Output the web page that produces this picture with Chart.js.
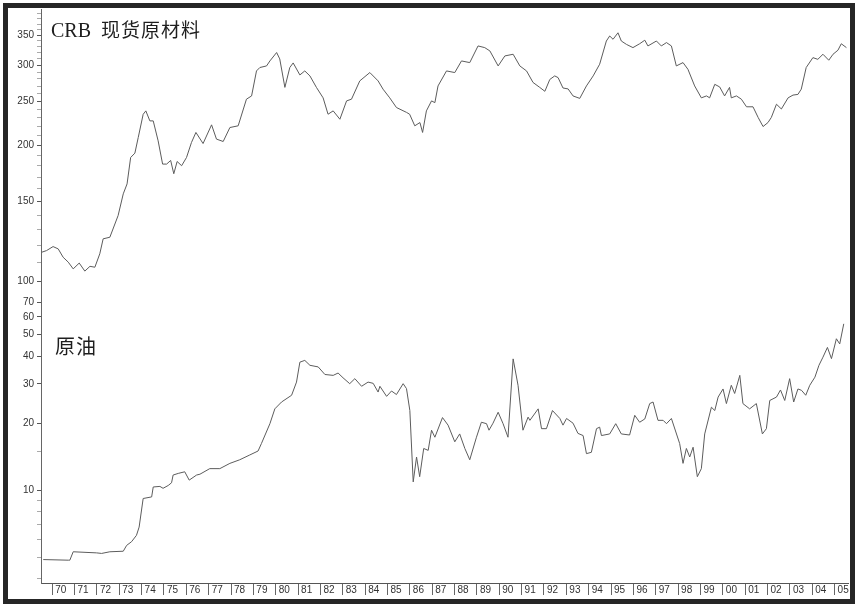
<!DOCTYPE html>
<html>
<head>
<meta charset="utf-8">
<script src="https://cdn.jsdelivr.net/npm/chart.js@4.4.1/dist/chart.umd.min.js"></script>
<style>
body { margin:0; background:#fff; }
#wrap { position:relative; width:856px; height:606px; }
#frame { position:absolute; left:3px; top:3px; width:852px; height:601px; border:5px solid #262626; box-sizing:border-box; pointer-events:none; }
.lbl { position:absolute; color:#1e1e1e; white-space:nowrap; line-height:1; }
</style>
</head>
<body>
<div id="wrap">
<canvas id="myChart" width="856" height="606"></canvas>
<div id="frame"></div>
<div class="lbl" style="left:51px; top:19px; font-size:20px;"><span style="font-family:'Liberation Serif'">CRB</span><span style="font-family:'Noto Sans CJK SC'; font-size:19px; letter-spacing:1px; margin-left:10px">现货原材料</span></div>
<div class="lbl" style="left:55px; top:336px; font-family:'Noto Sans CJK SC'; font-size:20px; letter-spacing:1px">原油</div>
</div>

<script>
// CRB spot raw materials (upper panel, log scale)
var crbYears = [1969.53,1969.75,1970.04,1970.27,1970.49,1970.72,1970.94,1971.21,1971.46,1971.69,
  1971.91,1972.13,1972.28,1972.58,1972.95,1973.18,1973.35,1973.51,1973.70,1973.85,
  1974.07,1974.19,1974.37,1974.52,1974.74,1974.94,1975.12,1975.30,1975.44,1975.59,
  1975.79,1976.01,1976.23,1976.43,1976.75,1977.13,1977.35,1977.65,1977.95,1978.32,
  1978.69,1978.92,1979.14,1979.29,1979.59,1979.74,1980.04,1980.18,1980.41,1980.63,
  1980.78,1981.08,1981.30,1981.53,1981.82,1982.12,1982.34,1982.57,1982.87,1983.17,
  1983.39,1983.76,1984.21,1984.58,1984.80,1985.10,1985.40,1985.85,1985.99,1986.22,
  1986.45,1986.57,1986.74,1986.97,1987.12,1987.26,1987.64,1988.01,1988.31,1988.68,
  1989.05,1989.35,1989.58,1989.95,1990.25,1990.62,1990.92,1991.22,1991.51,1991.81,
  1992.04,1992.26,1992.48,1992.63,1992.85,1993.08,1993.30,1993.60,1993.90,1994.20,
  1994.49,1994.79,1994.94,1995.09,1995.31,1995.46,1995.69,1995.98,1996.28,1996.51,
  1996.65,1997.03,1997.25,1997.48,1997.70,1997.92,1998.22,1998.44,1998.74,1999.04,
  1999.27,1999.41,1999.64,1999.86,2000.08,2000.30,2000.38,2000.61,2000.83,2001.06,
  2001.35,2001.58,2001.80,2002.02,2002.17,2002.40,2002.62,2002.92,2003.14,2003.36,
  2003.51,2003.73,2004.03,2004.25,2004.48,2004.74,2004.93,2005.15,2005.30,2005.53];
var crbValues = [116.0,117.0,119.4,118.0,113.1,110.3,106.6,109.8,105.4,108.0,
  107.5,115.1,124.2,125.2,139.8,156.1,164.2,187.8,192.0,207.9,
  233.9,238.0,226.2,226.2,204.4,181.6,181.6,185.0,172.9,184.0,
  180.1,187.8,202.6,213.3,201.6,221.7,206.2,203.7,218.7,220.6,
  252.6,256.8,291.6,296.7,299.1,306.8,320.2,310.0,268.2,296.7,
  303.7,285.7,291.6,284.3,268.2,254.3,234.0,238.0,228.1,250.4,
  252.6,277.2,289.2,277.2,265.8,254.3,242.1,236.2,234.0,220.6,
  224.3,213.3,238.0,250.4,248.2,270.2,291.6,289.2,306.8,304.2,
  331.1,328.3,322.8,299.1,314.7,317.4,299.1,291.6,275.0,268.2,
  262.9,279.2,284.3,281.9,267.4,266.1,256.8,253.6,270.2,284.3,
  301.7,339.5,348.3,342.5,354.0,339.5,333.7,328.3,334.8,340.9,
  331.1,339.5,331.1,336.8,331.1,299.1,304.2,294.0,270.2,254.3,
  256.8,254.3,272.4,268.8,256.8,268.2,254.3,256.8,252.6,243.0,
  243.0,230.2,219.8,224.3,230.2,246.2,240.3,254.3,257.9,258.8,
  265.8,296.7,312.0,309.3,317.4,307.9,317.4,324.0,334.8,328.3];

// crude oil (lower panel, log scale)
var oilYears = [1969.60,1970.72,1970.79,1970.94,1971.99,1972.21,1972.58,1973.18,1973.33,1973.55,
  1973.77,1973.89,1974.07,1974.45,1974.52,1974.82,1974.96,1975.19,1975.34,1975.41,
  1975.64,1975.93,1976.13,1976.46,1976.61,1977.05,1977.50,1977.95,1978.39,1978.84,
  1979.21,1979.36,1979.74,1979.96,1980.26,1980.71,1980.93,1981.08,1981.30,1981.53,
  1981.90,1982.20,1982.57,1982.79,1983.01,1983.31,1983.54,1983.84,1984.13,1984.36,
  1984.58,1984.66,1984.96,1985.18,1985.40,1985.70,1985.85,1986.00,1986.15,1986.30,
  1986.44,1986.62,1986.82,1986.97,1987.12,1987.46,1987.71,1988.01,1988.23,1988.46,
  1988.68,1988.98,1989.20,1989.43,1989.54,1989.72,1989.95,1990.17,1990.39,1990.62,
  1990.84,1991.06,1991.29,1991.37,1991.74,1991.89,1992.11,1992.38,1992.71,1992.85,
  1993.01,1993.30,1993.52,1993.75,1993.90,1994.12,1994.35,1994.49,1994.57,1994.94,
  1995.21,1995.46,1995.83,1996.06,1996.28,1996.51,1996.73,1996.88,1997.10,1997.33,
  1997.48,1997.70,1998.07,1998.22,1998.37,1998.52,1998.67,1998.86,1999.04,1999.19,
  1999.49,1999.64,1999.79,2000.01,2000.16,2000.38,2000.53,2000.76,2000.90,2001.20,
  2001.50,2001.77,2001.95,2002.10,2002.40,2002.58,2002.77,2002.99,2003.17,2003.36,
  2003.52,2003.71,2003.89,2004.12,2004.30,2004.48,2004.68,2004.86,2005.08,2005.23,
  2005.41];
var oilValues = [4.88,4.85,4.85,5.29,5.23,5.20,5.29,5.32,5.65,5.87,
  6.27,6.83,9.18,9.33,10.34,10.4,10.2,10.5,10.8,11.7,
  11.9,12.1,11.1,11.7,11.8,12.5,12.5,13.2,13.7,14.4,
  15.0,16.2,19.9,23.2,24.9,26.7,30.6,37.6,38.3,36.4,
  35.8,33.1,32.8,33.6,32.0,30.1,31.7,29.3,30.6,30.2,
  27.6,29.3,26.4,27.9,26.9,30.1,28.6,22.8,10.9,14.1,
  11.5,15.4,15.1,18.6,17.3,21.2,19.6,16.5,17.9,15.4,
  13.7,17.3,20.2,19.9,18.6,20.0,22.4,19.9,17.3,38.9,
  29.6,18.6,21.3,20.6,23.2,18.9,18.9,22.8,21.0,19.6,
  21.0,20.0,18.0,17.6,14.6,14.8,18.9,19.2,17.6,17.9,
  19.9,17.9,17.7,21.7,20.2,20.9,24.5,24.9,20.6,20.6,
  19.9,21.0,16.2,13.2,15.4,14.1,15.6,11.5,12.5,17.9,
  23.6,22.8,26.2,28.5,24.5,29.6,27.2,32.8,24.5,23.2,
  24.5,17.9,18.9,25.3,26.2,28.2,25.3,31.7,24.9,28.5,
  28.1,26.7,29.6,32.2,36.4,39.6,43.8,39.0,47.9,45.4,
  55.9];

// axis ticks
var yearTicks = [1970,1971,1972,1973,1974,1975,1976,1977,1978,1979,1980,1981,1982,1983,1984,1985,1986,1987,
  1988,1989,1990,1991,1992,1993,1994,1995,1996,1997,1998,1999,2000,2001,2002,2003,2004,2005];
var yearLabels = ['70','71','72','73','74','75','76','77','78','79','80','81','82','83','84','85','86','87',
  '88','89','90','91','92','93','94','95','96','97','98','99','00','01','02','03','04','05'];
var crbTickLabels = [100,150,200,250,300,350];
var crbTicks = [100,110,120,130,140,150,160,170,180,190,200,210,220,230,240,250,260,270,280,290,
  300,310,320,330,340,350,360,370,380,390];
var oilTickLabels = [10,20,30,40,50,60,70];
var oilTicks = [4,5,6,7,8,9,10,15,20,30,40,50,60,70];

function toPoints(xs, ys) {
  return xs.map(function(x, i) { return {x: x, y: ys[i]}; });
}

var tickFont = {family: 'Liberation Sans', size: 10};

function logAxis(ticks, labels, lo, hi, share, order) {
  return {
    type: 'logarithmic',
    position: 'left',
    stack: 'panels',
    stackWeight: share,
    weight: order,
    min: lo,
    max: hi,
    afterBuildTicks: function(s) { s.ticks = ticks.map(function(v) { return {value: v}; }); },
    afterFit: function(s) { s.width = 41; },
    grid: {
      drawOnChartArea: false,
      drawTicks: true,
      tickLength: 4,
      tickColor: function(c) { return labels.indexOf(c.tick.value) >= 0 ? '#555' : '#aaa'; }
    },
    border: {color: '#666', width: 1},
    ticks: {
      autoSkip: false,
      padding: 3,
      color: '#333',
      font: tickFont,
      callback: function(v) { return labels.indexOf(v) >= 0 ? String(v) : ''; }
    }
  };
}

var ctx = document.getElementById('myChart');
var config = {
  type: 'line',
  data: {
    datasets: [{
      label: 'CRB',
      data: toPoints(crbYears, crbValues),
      yAxisID: 'crb',
      borderColor: '#5c5c5c',
      borderWidth: 1,
      pointRadius: 0,
      fill: false
    }, {
      label: 'oil',
      data: toPoints(oilYears, oilValues),
      yAxisID: 'oil',
      borderColor: '#5c5c5c',
      borderWidth: 1,
      pointRadius: 0,
      fill: false
    }]
  },
  options: {
    responsive: false,
    animation: false,
    layout: {padding: {top: 8, right: 8, left: 0, bottom: 0}},
    plugins: {legend: {display: false}, tooltip: {enabled: false}},
    scales: {
      x: {
        type: 'linear',
        position: 'bottom',
        min: 1969.5,
        max: 2005.6,
        afterBuildTicks: function(s) { s.ticks = yearTicks.map(function(v) { return {value: v}; }); },
        afterFit: function(s) { s.height = 23; },
        grid: {drawOnChartArea: false, drawTicks: true, tickLength: 12, tickColor: '#666'},
        border: {color: '#555', width: 1},
        ticks: {
          autoSkip: false,
          maxRotation: 0,
          align: 'start',
          labelOffset: 3,
          padding: -11,
          color: '#333',
          font: tickFont,
          callback: function(v, i) { return yearLabels[i]; }
        }
      },
      crb: logAxis(crbTicks, crbTickLabels, 95.5, 399.5, 282, 2),
      oil: logAxis(oilTicks, oilTickLabels, 3.83, 78.9, 293, 1)
    }
  }
};
var myChart = new Chart(ctx, config);
</script>
</body>
</html>
